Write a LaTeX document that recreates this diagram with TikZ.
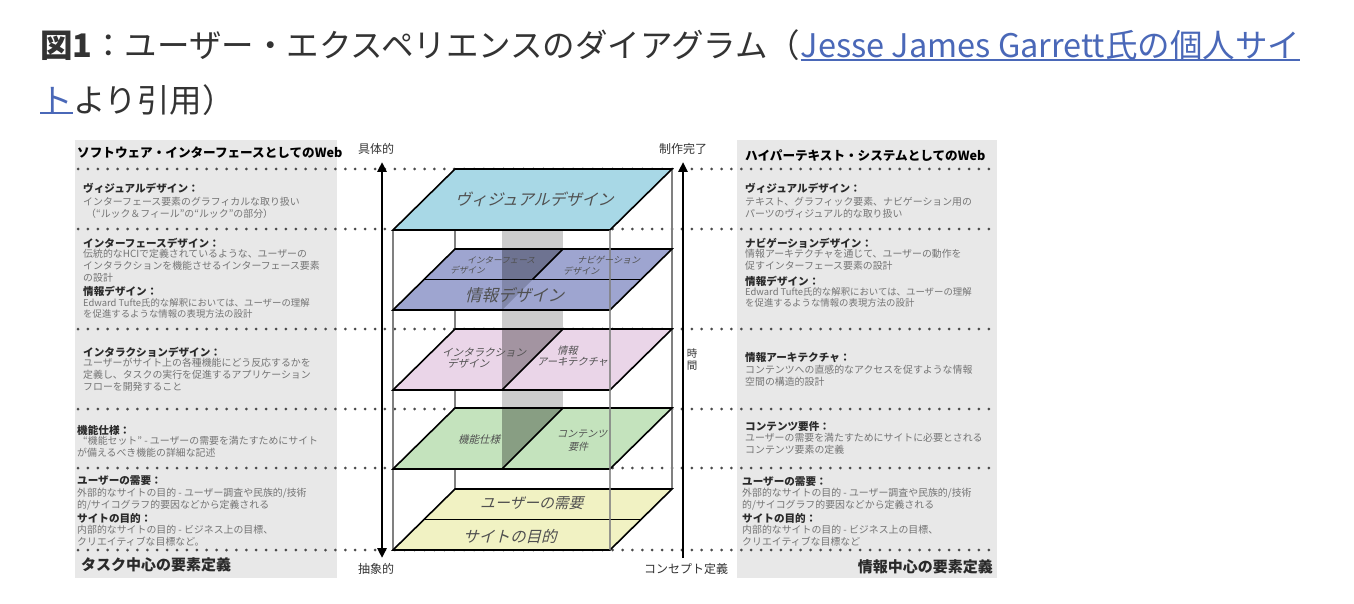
\documentclass[tikz,border=0pt]{standalone}
\usepackage{fontspec}
\setmainfont{Noto Sans CJK JP}
\newfontfamily\jpsl[FakeSlant=0.25]{Noto Sans CJK JP}
\usetikzlibrary{arrows.meta}
\definecolor{titlecol}{HTML}{333333}
\definecolor{linkcol}{HTML}{4A68B8}
\definecolor{panelgray}{HTML}{E8E8E8}
\definecolor{dotgray}{HTML}{4A4A4A}
\definecolor{lblcol}{HTML}{2A2A2A}
\definecolor{desccol}{HTML}{747474}
\definecolor{cvis}{HTML}{A8D8E6}
\definecolor{cpur}{HTML}{9EA5D0}
\definecolor{cpink}{HTML}{EAD5E8}
\definecolor{cgreen}{HTML}{C4E3BD}
\definecolor{cyel}{HTML}{F1F2C3}
\definecolor{cband}{HTML}{CCCCCC}
\definecolor{framecol}{HTML}{808080}
\definecolor{plbl}{HTML}{505050}
\begin{document}
\begin{tikzpicture}[x=1pt,y=-1pt,
  titletxt/.style={inner sep=0pt, text=titlecol, font=\fontsize{32.5}{36}\selectfont},
  linktxt/.style={inner sep=0pt, text=linkcol, font=\fontsize{32.5}{36}\selectfont},
  uline/.style={draw=linkcol, line width=1.6pt},
  panel/.style={fill=panelgray},
  dotrow/.style={draw=dotgray, line width=3pt, line cap=round, dash pattern=on 0pt off 9.9pt},
  frameline/.style={draw=framecol, line width=1.2pt},
  planeedge/.style={draw=black, line width=1.6pt, line join=miter},
  shadetri/.style={fill=black, fill opacity=0.3},
  hdr/.style={anchor=west, inner sep=0pt, text=black, font=\fontsize{12.6}{14}\selectfont\bfseries},
  lbl/.style={anchor=west, inner sep=0pt, text=lblcol, font=\fontsize{10.6}{12}\selectfont\bfseries},
  desc/.style={anchor=north west, inner sep=0pt, align=left, text=desccol, font=\fontsize{9.9}{11.8}\selectfont},
  foot/.style={inner sep=0pt, text=lblcol, font=\fontsize{15}{17}\selectfont\bfseries},
  axislbl/.style={inner sep=0pt, text=titlecol, font=\fontsize{12}{13}\selectfont},
  axisline/.style={draw=black, line width=2.6pt},
  bigpl/.style={inner sep=0pt, anchor=west, text=plbl, font=\fontsize{15.5}{17}\selectfont\jpsl},
  smallpl/.style={inner sep=0pt, anchor=north west, align=left, text=plbl, font=\fontsize{9.5}{10.5}\selectfont\jpsl}
]
\useasboundingbox (0,0) rectangle (1354,604);
\fill[white] (0,0) rectangle (1354,604);

% ---------- title ----------
\node[titletxt, anchor=base west] (t1) at (40,58) {\textbf{図1}：ユーザー・エクスペリエンスのダイアグラム（};
\node[linktxt, anchor=base west] (lk1) at (t1.base east) {Jesse James Garrett氏の個人サイ};
\node[linktxt, anchor=base west] (lk2) at (40,113) {ト};
\node[titletxt, anchor=base west] (t2) at (lk2.base east) {より引用）};
\draw[uline] ([yshift=1pt]lk1.south west) -- ([yshift=1pt]lk1.south east);
\draw[uline] ([yshift=1pt]lk2.south west) -- ([yshift=1pt]lk2.south east);

% ---------- side panels ----------
\fill[panel] (75,140) rectangle (337,578);
\fill[panel] (737,140) rectangle (997,578);

% ---------- dotted rows ----------
\foreach \yy in {169,229,329,409,468,550}
  \draw[dotrow] (78,\yy) -- (994,\yy);

% ---------- box frame (behind) ----------
\draw[frameline] (455,169) -- (455,489);
\draw[frameline] (672,169) -- (672,489);
\draw[frameline] (393,230) -- (393,550);
\fill[cband] (502,230) rectangle (563,469);

% ---------- planes: fills ----------
\fill[cvis] (455,169) -- (672,169) -- (610,230) -- (393,230) -- cycle;
\fill[cpur] (455,249) -- (672,249) -- (610,310) -- (393,310) -- cycle;
\fill[cpink] (455,329) -- (672,329) -- (610,390) -- (393,390) -- cycle;
\fill[cgreen] (455,408) -- (672,408) -- (610,469) -- (393,469) -- cycle;
\fill[cyel] (455,489) -- (672,489) -- (610,550) -- (393,550) -- cycle;

% shaded band on left halves
\fill[shadetri] (502,249) -- (563,249) -- (532.5,279.5) -- (502,279.5) -- cycle;
\fill[shadetri, fill opacity=0.18] (502,279.5) -- (532.5,279.5) -- (502,310) -- cycle;
\fill[shadetri] (502,329) -- (563,329) -- (502,390) -- cycle;
\fill[shadetri] (502,408) -- (563,408) -- (502,469) -- cycle;

% ---------- planes: outlines ----------
\draw[planeedge] (455,169) -- (672,169) -- (610,230) -- (393,230) -- cycle;
\draw[planeedge] (455,249) -- (672,249) -- (610,310) -- (393,310) -- cycle;
\draw[planeedge] (424.5,279.5) -- (641.5,279.5);
\draw[planeedge] (563,249) -- (532.5,279.5);
\draw[planeedge] (455,329) -- (672,329) -- (610,390) -- (393,390) -- cycle;
\draw[planeedge] (563,329) -- (502,390);
\draw[planeedge] (455,408) -- (672,408) -- (610,469) -- (393,469) -- cycle;
\draw[planeedge] (563,408) -- (502,469);
\draw[planeedge] (455,489) -- (672,489) -- (610,550) -- (393,550) -- cycle;
\draw[planeedge] (424.5,519.5) -- (641.5,519.5);

% front-right frame edge over the planes
\draw[frameline, draw opacity=0.8] (610,230) -- (610,550);

% ---------- plane labels ----------
\node[bigpl, font=\fontsize{16}{18}\selectfont\jpsl] (pvis) at (455,199) {ヴィジュアルデザイン};
\node[smallpl, font=\fontsize{8.6}{10.5}\selectfont\jpsl] (pif) at (450,256) {\hspace*{17pt}インターフェース\\デザイン};
\node[smallpl, font=\fontsize{9}{10.5}\selectfont\jpsl] (pnav) at (563,256) {\hspace*{14pt}ナビゲーション\\デザイン};
\node[bigpl, font=\fontsize{16.5}{18}\selectfont\jpsl] (pinfo) at (465,295) {情報デザイン};
\node[smallpl, font=\fontsize{10.5}{10.5}\selectfont\jpsl] (pint) at (442,348) {インタラクション\\\hspace*{5pt}デザイン};
\node[smallpl, font=\fontsize{10.2}{11}\selectfont\jpsl] (pia) at (537,346) {\hspace*{20pt}情報\\アーキテクチャ};
\node[bigpl, font=\fontsize{10.5}{12}\selectfont\jpsl] (pfunc) at (458,440) {機能仕様};
\node[smallpl, font=\fontsize{10}{12.5}\selectfont\jpsl] (pcont) at (557,430) {コンテンツ\\\hspace*{11pt}要件};
\node[bigpl, font=\fontsize{14.8}{17}\selectfont\jpsl] (puser) at (480,503) {ユーザーの需要};
\node[bigpl, font=\fontsize{15.6}{17}\selectfont\jpsl] (psite) at (463,536) {サイトの目的};

% ---------- axes ----------
\coordinate (ltop) at (382,162);
\coordinate (lbot) at (382,558);
\coordinate (rtop) at (683,162);
\coordinate (rbot) at (683,558);
\draw[axisline, {Triangle[length=10pt,width=9pt]}-{Triangle[length=10pt,width=9pt]}] (ltop) -- (lbot);
\draw[axisline, -{Triangle[length=10pt,width=9pt]}] (rbot) -- (rtop);
\node[axislbl] (concrete) at (376,149) {具体的};
\node[axislbl] (abstract) at (376,569) {抽象的};
\node[axislbl] (complete) at (683,149) {制作完了};
\node[axislbl] (concept) at (686,569) {コンセプト定義};
\node[axislbl, align=center, font=\fontsize{10.5}{12}\selectfont] (time) at (692,360) {時\\間};

% ---------- left panel text ----------
\node[hdr] (lh) at (77,153) {ソフトウェア・インターフェースとしてのWeb};
\node[lbl] (l1) at (83,188) {ヴィジュアルデザイン：};
\node[desc] (l1d) at (83,197) {インターフェース要素のグラフィカルな取り扱い\\\hspace*{3pt}（“ルック＆フィール”の“ルック”の部分）};
\node[lbl] (l2) at (83,243) {インターフェースデザイン：};
\node[desc] (l2d) at (83,249) {伝統的なHCIで定義されているような、ユーザーの\\インタラクションを機能させるインターフェース要素\\の設計};
\node[lbl] (l3) at (83,291) {情報デザイン：};
\node[desc, font=\fontsize{9.4}{11.8}\selectfont] (l3d) at (83,298) {Edward Tufte氏的な解釈においては、ユーザーの理解\\を促進するような情報の表現方法の設計};
\node[lbl] (l4) at (83,352) {インタラクションデザイン：};
\node[desc] (l4d) at (83,358) {ユーザーがサイト上の各種機能にどう反応するかを\\定義し、タスクの実行を促進するアプリケーション\\フローを開発すること};
\node[lbl] (l5) at (77,430) {機能仕様：};
\node[desc] (l5d) at (77,436) {\hspace*{6pt}“機能セット” - ユーザーの需要を満たすためにサイト\\が備えるべき機能の詳細な記述};
\node[lbl] (l6) at (77,481) {ユーザーの需要：};
\node[desc] (l6d) at (77,488) {外部的なサイトの目的 - ユーザー調査や民族的/技術\\的/サイコグラフ的要因などから定義される};
\node[lbl] (l7) at (77,518) {サイトの目的：};
\node[desc] (l7d) at (77,525) {内部的なサイトの目的 - ビジネス上の目標、\\クリエイティブな目標など。};
\node[foot, anchor=west] (lf) at (81,565) {タスク中心の要素定義};

% ---------- right panel text ----------
\node[hdr] (rh) at (745,156) {ハイパーテキスト・システムとしてのWeb};
\node[lbl] (r1) at (745,188) {ヴィジュアルデザイン：};
\node[desc] (r1d) at (745,197) {テキスト、グラフィック要素、ナビゲーション用の\\パーツのヴィジュアル的な取り扱い};
\node[lbl] (r2) at (745,243) {ナビゲーションデザイン：};
\node[desc] (r2d) at (745,249) {情報アーキテクチャを通じて、ユーザーの動作を\\促すインターフェース要素の設計};
\node[lbl] (r3) at (745,281) {情報デザイン：};
\node[desc, font=\fontsize{9.4}{11.4}\selectfont] (r3d) at (745,287) {Edward Tufte氏的な解釈においては、ユーザーの理解\\を促進するような情報の表現方法の設計};
\node[lbl] (r4) at (745,358) {情報アーキテクチャ：};
\node[desc] (r4d) at (745,365) {コンテンツへの直感的なアクセスを促すような情報\\空間の構造的設計};
\node[lbl] (r5) at (745,427) {コンテンツ要件：};
\node[desc] (r5d) at (745,433) {ユーザーの需要を満たすためにサイトに必要とされる\\コンテンツ要素の定義};
\node[lbl] (r6) at (742,482) {ユーザーの需要：};
\node[desc] (r6d) at (742,488) {外部的なサイトの目的 - ユーザー調査や民族的/技術\\的/サイコグラフ的要因などから定義される};
\node[lbl] (r7) at (742,518) {サイトの目的：};
\node[desc] (r7d) at (742,525) {内部的なサイトの目的 - ビジネス上の目標、\\クリエイティブな目標など};
\node[foot, anchor=east] (rf) at (993,567) {情報中心の要素定義};
\end{tikzpicture}
\end{document}
